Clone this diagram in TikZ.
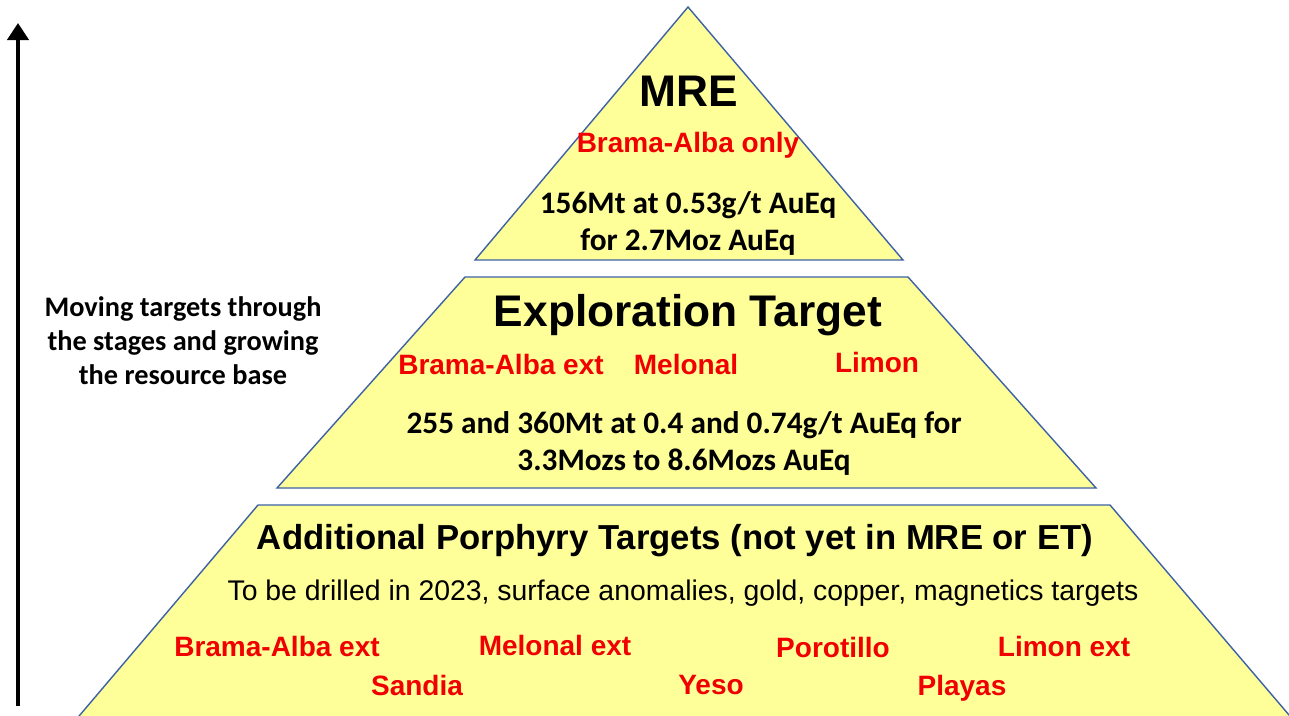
\documentclass[tikz,border=0pt]{standalone}
\usepackage{fontspec}
\setmainfont{Liberation Sans}
\newfontfamily\calfont{Carlito}
\usetikzlibrary{arrows.meta}
\definecolor{pyrfill}{RGB}{255,255,153}
\definecolor{pyredge}{RGB}{60,98,165}
\definecolor{tred}{RGB}{240,0,0}
\tikzset{
  tier/.style={fill=pyrfill, draw=pyredge, line width=1.4pt, line join=miter},
  txt/.style={anchor=base, inner sep=0pt, outer sep=0pt},
  title/.style={txt, font=\fontsize{44.3}{50}\selectfont\bfseries},
  redlbl/.style={txt, text=tred, font=\fontsize{28}{34}\selectfont\bfseries},
  callbl/.style={txt, font=\calfont\fontsize{31.3}{37}\selectfont\bfseries},
  sidelbl/.style={txt, font=\calfont\fontsize{28.3}{34}\selectfont\bfseries},
}
\begin{document}
\begin{tikzpicture}[x=1pt,y=-1pt]
\useasboundingbox (0,0) rectangle (1289,715);
% tiers
\draw[tier] (688,7) -- (903,260) -- (475,260) -- cycle;
\draw[tier] (465,277) -- (908,277) -- (1096,488) -- (277,488) -- cycle;
\begin{scope}
\clip (0,0) rectangle (1289,715);
\draw[tier] (258,505) -- (1110,505) -- (1295,722) -- (74,722) -- cycle;
\end{scope}
% arrow
\coordinate (abot) at (18,706);
\coordinate (atop) at (18,23);
\draw[line width=4.5pt, -{Triangle[width=21pt,length=17pt]}] (abot) -- (atop);
% side text
\node[sidelbl] (s1) at (183,316) {Moving targets through};
\node[sidelbl] (s2) at (183,350) {the stages and growing};
\node[sidelbl] (s3) at (183,384) {the resource base};
% top tier
\node[title] (mre) at (689,106) {MRE};
\node[redlbl] (ba) at (688,152) {Brama-Alba only};
\node[callbl] (m1) at (688,213) {156Mt at 0.53g/t AuEq};
\node[callbl] (m2) at (688,250) {for 2.7Moz AuEq};
% middle tier
\node[title] (et) at (688,326) {Exploration Target};
\node[redlbl] (e1) at (501,374) {Brama-Alba ext};
\node[redlbl] (e2) at (686,374) {Melonal};
\node[redlbl] (e3) at (877,372) {Limon};
\node[callbl] (e4) at (684,433) {255 and 360Mt at 0.4 and 0.74g/t AuEq for};
\node[callbl] (e5) at (684,470) {3.3Mozs to 8.6Mozs AuEq};
% bottom tier
\node[txt, font=\fontsize{34.7}{40}\selectfont\bfseries] (ap) at (675,549) {Additional Porphyry Targets (not yet in MRE or ET)};
\node[txt, font=\fontsize{28.4}{34}\selectfont] (tb) at (683,600) {To be drilled in 2023, surface anomalies, gold, copper, magnetics targets};
\node[redlbl] (b1) at (277,656) {Brama-Alba ext};
\node[redlbl] (b2) at (555,655) {Melonal ext};
\node[redlbl] (b3) at (833,657) {Porotillo};
\node[redlbl] (b4) at (1064,656) {Limon ext};
\node[redlbl] (b5) at (417,695) {Sandia};
\node[redlbl] (b6) at (711,694) {Yeso};
\node[redlbl] (b7) at (962,695) {Playas};
\end{tikzpicture}
\end{document}
